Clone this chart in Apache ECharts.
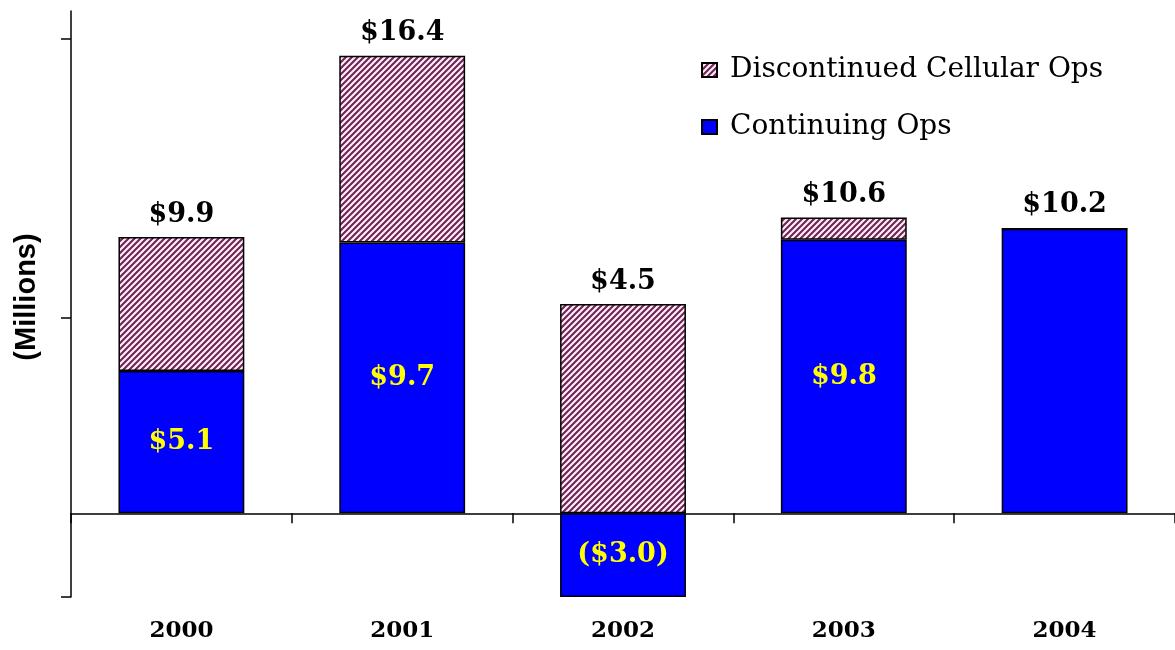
<!DOCTYPE html>
<html>
<head>
<meta charset="utf-8">
<script src="https://cdn.jsdelivr.net/npm/echarts@6/dist/echarts.min.js"></script>
<style>
  html, body { margin: 0; padding: 0; background: #ffffff; }
  #chart { width: 1175px; height: 650px; }
</style>
</head>
<body>
<div id="chart"></div>
<script>
// Net income by year, $ millions
const years = ['2000', '2001', '2002', '2003', '2004'];
const continuingOps = [5.1, 9.7, -3.0, 9.8, 10.2];
const discontinuedOps = [4.8, 6.7, 7.5, 0.8, 0];
const continuingLabelled = [true, true, true, true, false];
const yTickValues = [-3, 7, 17];
const yMin = -3;
const yMax = 18;

function money(v) {
  const s = '$' + Math.abs(v).toFixed(1);
  return v < 0 ? '(' + s + ')' : s;
}

// Diagonal mauve hatch used for the discontinued segment
function hatchPattern() {
  const P = 6;
  const c = document.createElement('canvas');
  c.width = P; c.height = P;
  const ctx = c.getContext('2d');
  const img = ctx.createImageData(P, P);
  const dark = [110, 40, 85];
  const light = [252, 236, 248];
  for (let y = 0; y < P; y++) {
    for (let x = 0; x < P; x++) {
      const t = ((x + y) % P) / P;
      const k = Math.min(1, Math.max(0, 0.5 + 0.8 * Math.cos(2 * Math.PI * t)));
      const i = (y * P + x) * 4;
      for (let j = 0; j < 3; j++) {
        img.data[i + j] = Math.round(light[j] + (dark[j] - light[j]) * k);
      }
      img.data[i + 3] = 255;
    }
  }
  ctx.putImageData(img, 0, 0);
  return c;
}

const serifBold = { fontFamily: 'DejaVu Serif', fontWeight: 'bold', fontSize: 27 };

const chart = echarts.init(document.getElementById('chart'), null, { renderer: 'canvas' });
chart.setOption({
  animation: false,
  backgroundColor: '#ffffff',
  grid: { left: 71, top: 11, right: -7, bottom: 53, containLabel: false },
  legend: {
    data: ['Discontinued Cellular Ops', 'Continuing Ops'],
    orient: 'vertical',
    left: 701,
    top: 55,
    padding: 0,
    itemGap: 27,
    itemWidth: 15,
    itemHeight: 14,
    icon: 'rect',
    selectedMode: false,
    textStyle: {
      fontFamily: 'DejaVu Serif',
      fontSize: 28,
      color: '#000',
      lineHeight: 30,
      padding: [0, 0, 0, 8]
    }
  },
  xAxis: [
    {
      type: 'category',
      data: years,
      position: 'bottom',
      axisLine: { onZero: true, lineStyle: { color: '#000', width: 1.5 } },
      axisTick: { show: true, length: 10, lineStyle: { color: '#000', width: 1.5 } },
      axisLabel: { show: false },
      splitLine: { show: false }
    },
    {
      type: 'category',
      data: years,
      position: 'bottom',
      axisLine: { show: false, onZero: false },
      axisTick: { show: false },
      axisLabel: {
        margin: 23,
        color: '#000',
        fontFamily: 'DejaVu Serif',
        fontWeight: 'bold',
        fontSize: 23
      },
      splitLine: { show: false }
    }
  ],
  yAxis: {
    type: 'value',
    min: yMin,
    max: yMax,
    splitLine: { show: false },
    axisLabel: { show: false },
    axisLine: { show: true, lineStyle: { color: '#000', width: 1.5 } },
    axisTick: {
      show: true,
      length: 10,
      customValues: yTickValues,
      lineStyle: { color: '#000', width: 1.5 }
    }
  },
  graphic: [
    {
      type: 'text',
      x: 27,
      y: 297,
      rotation: Math.PI / 2,
      style: {
        text: '(Millions)',
        fontFamily: 'Liberation Sans',
        fontWeight: 'bold',
        fontSize: 29,
        fill: '#000',
        align: 'center',
        verticalAlign: 'middle'
      }
    }
  ],
  series: [
    {
      name: 'Continuing Ops',
      type: 'bar',
      stack: 'ops',
      xAxisIndex: 0,
      barWidth: '57%',
      data: continuingOps,
      itemStyle: { color: '#0000ff', borderColor: '#000', borderWidth: 1.5 },
      label: Object.assign({
        show: true,
        position: 'inside',
        color: '#ffff00',
        formatter: p => continuingLabelled[p.dataIndex] ? money(p.value) : ''
      }, serifBold)
    },
    {
      name: 'Discontinued Cellular Ops',
      type: 'bar',
      stack: 'ops',
      xAxisIndex: 0,
      barWidth: '57%',
      data: discontinuedOps,
      itemStyle: {
        color: { image: hatchPattern(), repeat: 'repeat' },
        borderColor: '#000',
        borderWidth: 1.5
      },
      label: Object.assign({
        show: true,
        position: 'top',
        distance: 9,
        color: '#000',
        formatter: p => money(continuingOps[p.dataIndex] + discontinuedOps[p.dataIndex])
      }, serifBold)
    }
  ]
});
</script>
</body>
</html>
